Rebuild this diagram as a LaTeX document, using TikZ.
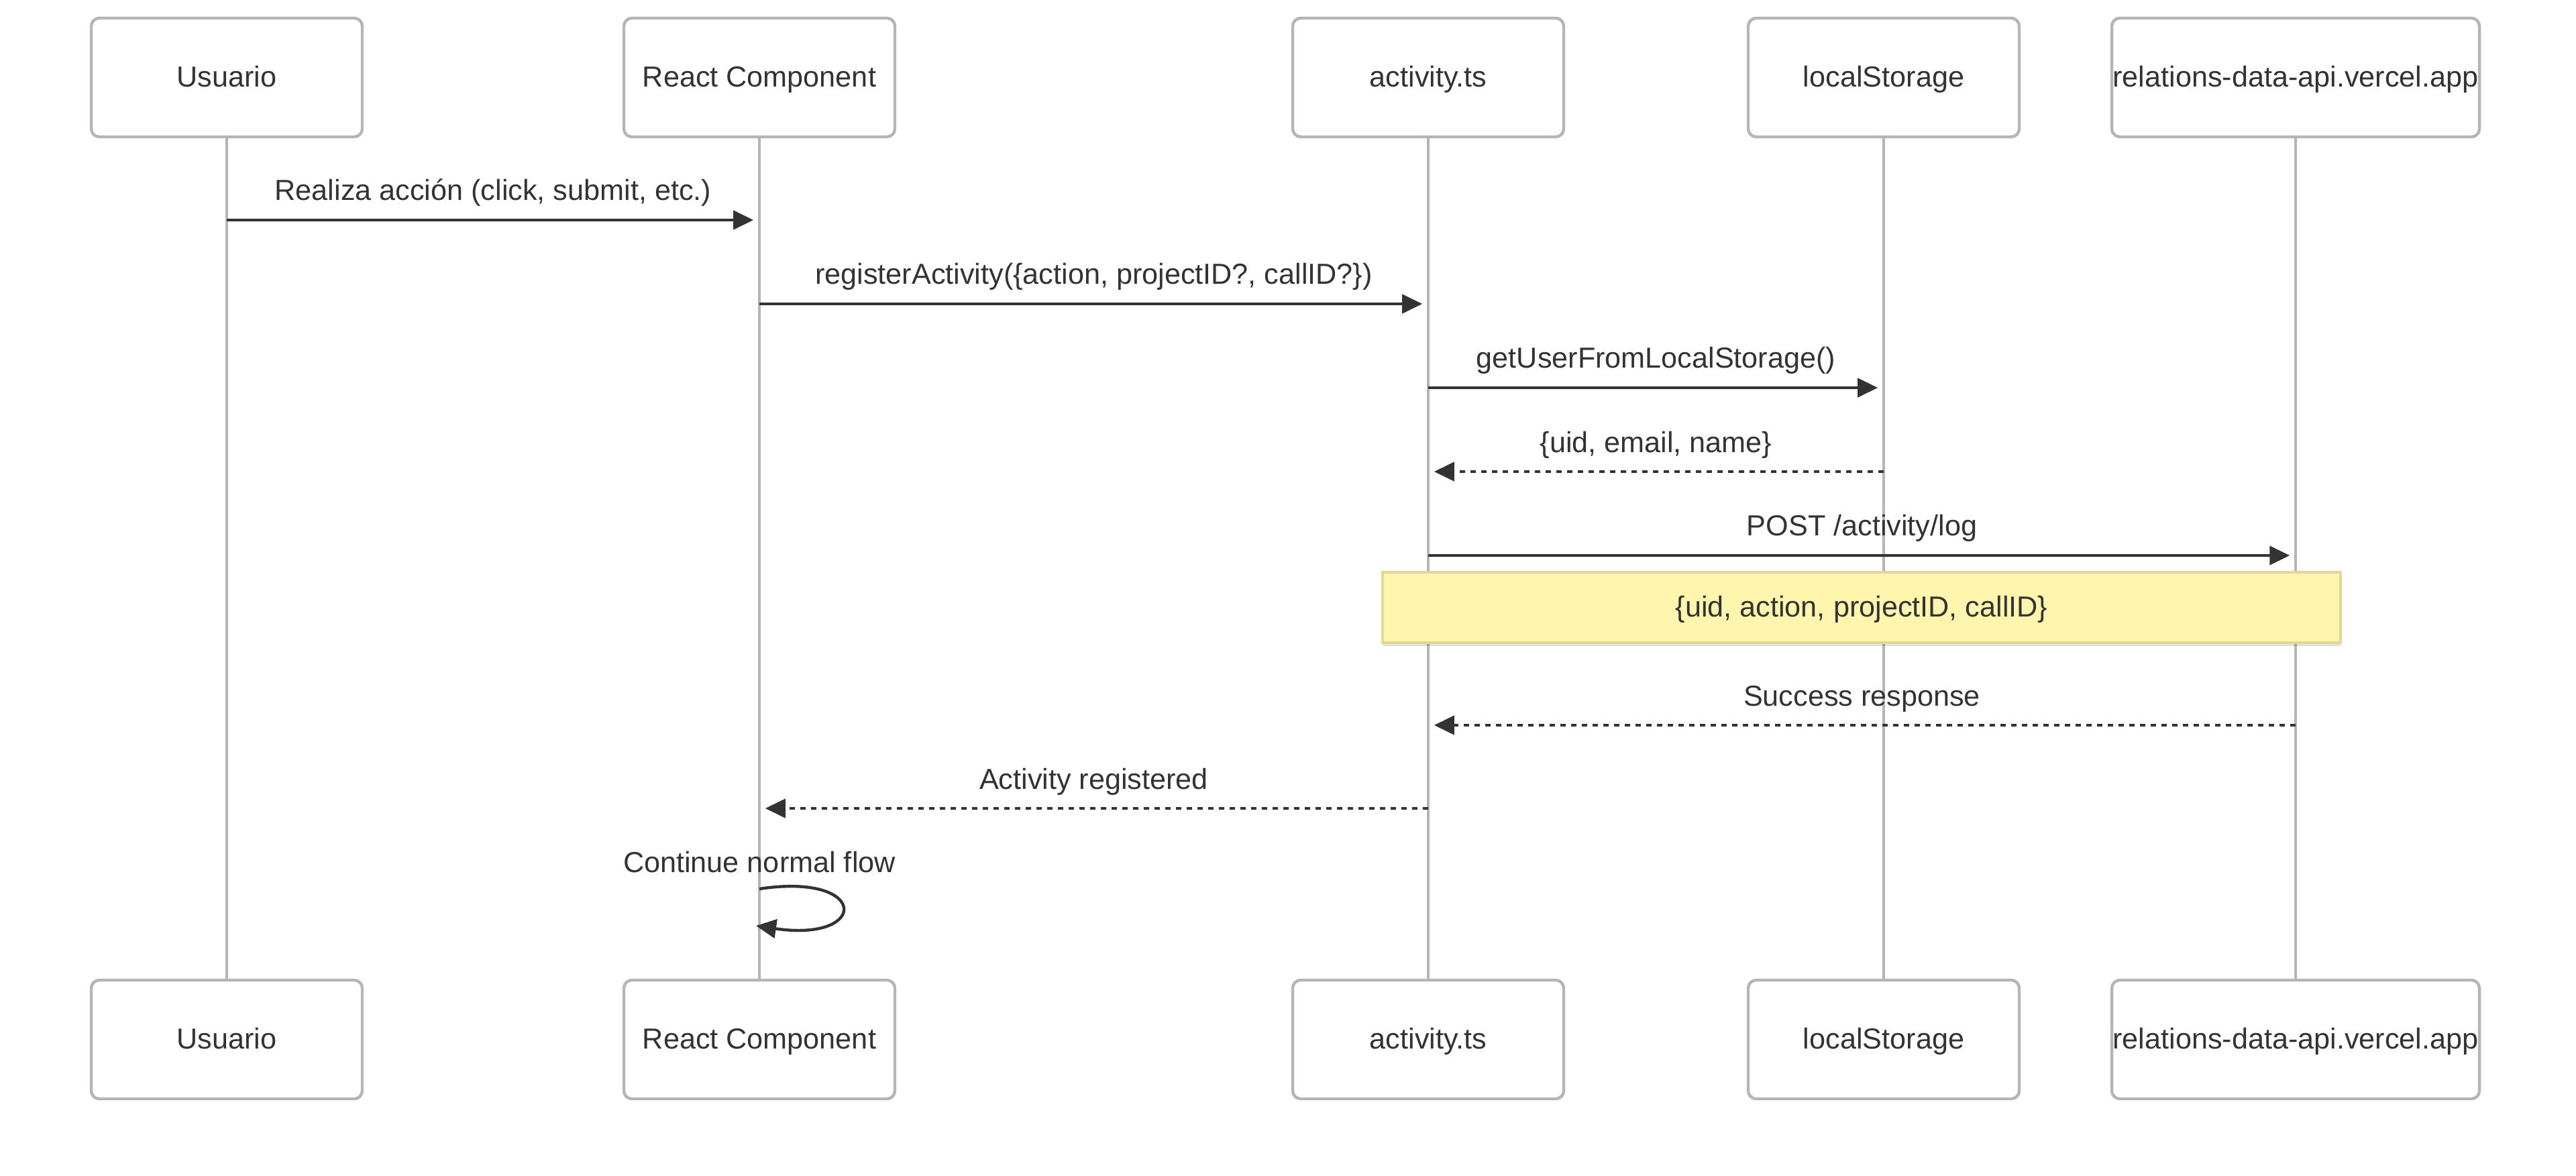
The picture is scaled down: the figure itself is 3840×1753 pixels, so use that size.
\documentclass[tikz,border=0pt]{standalone}
\usepackage{fontspec}
\setmainfont{Liberation Sans}
\usetikzlibrary{arrows.meta,shadows}
\definecolor{ink}{HTML}{333333}
\definecolor{frame}{HTML}{B5B5B5}
\definecolor{notefill}{HTML}{FFF5AD}
\definecolor{noteline}{HTML}{E3D98F}

\begin{document}
\begin{tikzpicture}[x=0.25pt,y=-0.25pt,
  every node/.style={text=ink, font=\fontsize{10.8pt}{13pt}\selectfont},
  actor/.style={draw=frame, line width=1.1pt, fill=white, rounded corners=3pt,
    minimum height=44.25pt, minimum width=101pt, inner sep=0pt,
    text height=0.72em, text depth=0pt},
  wideactor/.style={actor, minimum width=137pt},
  life/.style={draw=frame, line width=1pt},
  call/.style={draw=ink, line width=1.1pt, -{Triangle[length=7.5pt,width=7pt]}, shorten >=2.2pt},
  reply/.style={call, dash pattern=on 2pt off 2pt},
  label/.style={anchor=base, yshift=7.25pt},
  note/.style={draw=noteline, line width=1pt, fill=notefill, minimum width=357pt,
    minimum height=26.25pt, inner sep=0pt, text height=0.72em, text depth=0pt,
    drop shadow={shadow xshift=0pt, shadow yshift=-1.2pt, opacity=0.12, fill=black}}
]
\useasboundingbox (0,0) rectangle (3840,1753);

% participants, top row
\node[actor]     (uT) at (338,115.5)  {Usuario};
\node[actor]     (rT) at (1132,115.5) {React Component};
\node[actor]     (aT) at (2129,115.5) {activity.ts};
\node[actor]     (lT) at (2808,115.5) {localStorage};
\node[wideactor] (pT) at (3422,115.5) {relations-data-api.vercel.app};

% participants, bottom row
\node[actor]     (uB) at (338,1549.5)  {Usuario};
\node[actor]     (rB) at (1132,1549.5) {React Component};
\node[actor]     (aB) at (2129,1549.5) {activity.ts};
\node[actor]     (lB) at (2808,1549.5) {localStorage};
\node[wideactor] (pB) at (3422,1549.5) {relations-data-api.vercel.app};

% lifelines
\draw[life] (uT.south) -- (uB.north);
\draw[life] (rT.south) -- (rB.north);
\draw[life] (aT.south) -- (aB.north);
\draw[life] (lT.south) -- (lB.north);
\draw[life] (pT.south) -- (pB.north);

% message end points on the lifelines
\coordinate (u1) at (uT |- 0,328);
\coordinate (r1) at (rT |- 0,328);
\coordinate (r2) at (rT |- 0,453);
\coordinate (a2) at (aT |- 0,453);
\coordinate (a3) at (aT |- 0,578);
\coordinate (l3) at (lT |- 0,578);
\coordinate (l4) at (lT |- 0,703);
\coordinate (a4) at (aT |- 0,703);
\coordinate (a5) at (aT |- 0,828);
\coordinate (p5) at (pT |- 0,828);
\coordinate (p6) at (pT |- 0,1081);
\coordinate (a6) at (aT |- 0,1081);
\coordinate (a7) at (aT |- 0,1205);
\coordinate (r7) at (rT |- 0,1205);
\coordinate (r8) at (rT |- 0,1325);
\coordinate (r9) at (1127,1380);

% messages
\draw[call]  (u1) -- (r1) node[label, midway] {Realiza acción (click, submit, etc.)};
\draw[call]  (r2) -- (a2) node[label, midway] {registerActivity(\{action, projectID?, callID?\})};
\draw[call]  (a3) -- (l3) node[label, midway] {getUserFromLocalStorage()};
\draw[reply] (l4) -- (a4) node[label, midway] {\{uid, email, name\}};
\draw[call]  (a5) -- (p5) node[label, midway] {POST /activity/log};

% note over activity.ts .. api
\node[note] (nt) at (2775,905.5) {\{uid, action, projectID, callID\}};

\draw[reply] (p6) -- (a6) node[label, midway] {Success response};
\draw[reply] (a7) -- (r7) node[label, midway] {Activity registered};

% self call on the component
\draw[call, shorten >=0pt] (r8) .. controls (1296,1300) and (1296,1405) .. (r9);
\node[anchor=base] (selfmsg) at (1132,1300) {Continue normal flow};
\end{tikzpicture}
\end{document}
